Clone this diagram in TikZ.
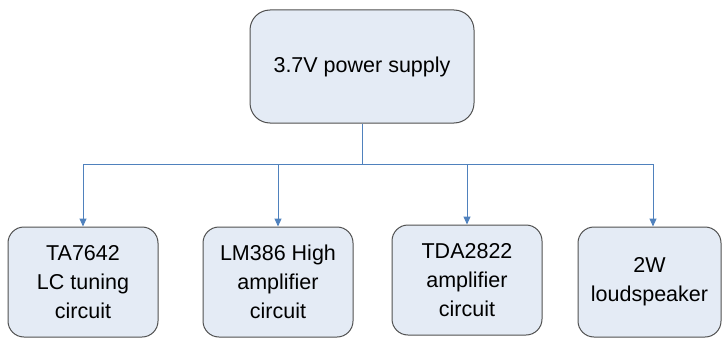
\documentclass[tikz,border=0pt]{standalone}
\usepackage{fontspec}
\setmainfont{Liberation Sans}
\usepackage{tikz}
\usetikzlibrary{arrows.meta, positioning, calc}
\definecolor{boxfill}{RGB}{228,235,245}
\definecolor{boxline}{RGB}{80,80,80}
\definecolor{linkblue}{RGB}{79,129,189}

\begin{document}
\begin{tikzpicture}[x=1pt, y=-1pt,
    block/.style={draw=boxline, line width=1pt, fill=boxfill, rounded corners=16pt, align=center, inner sep=0pt, font=\fontsize{21.5}{29}\selectfont},
    link/.style={draw=linkblue, line width=1pt, -{Triangle[length=8pt, width=7pt]}}]
    \useasboundingbox (0,0) rectangle (722,337);
    \node[block, minimum width=224pt, minimum height=113pt, rounded corners=20pt] (supply) at (362,66.5) {3.7V power supply};
    \node[block, minimum width=150pt, minimum height=110pt] (tuner) at (83,282) {TA7642\\LC tuning\\circuit};
    \node[block, minimum width=150pt, minimum height=110pt] (lm) at (278,282) {LM386 High\\amplifier\\circuit};
    \node[block, minimum width=150pt, minimum height=110pt] (tda) at (467,280) {TDA2822\\amplifier\\circuit};
    \node[block, minimum width=143pt, minimum height=110pt] (spk) at (649.5,282) {2W\\loudspeaker};
    \coordinate (bus) at (362,164);
    \draw[draw=linkblue, line width=1pt] (supply.south) -- (bus);
    \foreach \n in {tuner, lm, tda}
        \draw[link] (bus) -| (\n.north);
    \draw[link] (bus) -| ([xshift=3.5pt]spk.north);
\end{tikzpicture}
\end{document}
